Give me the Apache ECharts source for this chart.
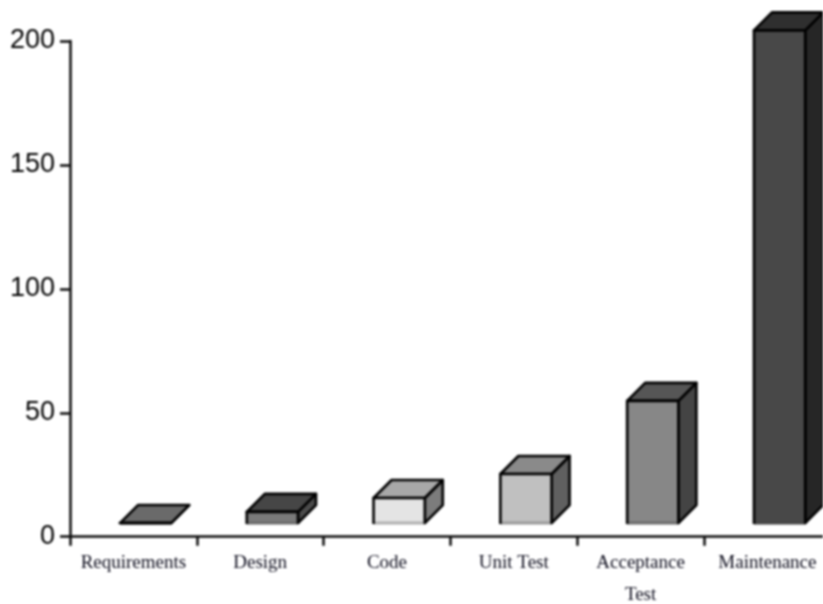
<!DOCTYPE html>
<html><head><meta charset="utf-8">
<style>html,body{margin:0;padding:0;background:#fff;width:823px;height:604px;overflow:hidden}#c{width:823px;height:604px;filter:blur(0.8px)}</style>
<script src="https://cdn.jsdelivr.net/npm/echarts@6/dist/echarts.min.js"></script>
</head><body><div id="c"></div>
<script>
const categories = ['Requirements','Design','Code','Unit Test','Acceptance\nTest','Maintenance'];
const barTops = [5.5, 10, 15.6, 25.3, 54.8, 204.3];
const barBase = 5.5;
const yTicks = [0, 50, 100, 150, 200];
const frontColors = ['#6a6a6a','#7a7a7a','#e4e4e4','#c0c0c0','#878787','#484848'];
const topColors = ['#6a6a6a','#464646','#a8a8a8','#8a8a8a','#565656','#2f2f2f'];
const sideColors = ['#6a6a6a','#4c4c4c','#7c7c7c','#606060','#444444','#262626'];
const stripColors = ['#222222','#6a6a6a','#b0b0b0','#9a9a9a','#6c6c6c','#444444'];

const DEPTH = 18, EDGE = '#000000';
function renderBar(params, api) {
  const i = api.value(0);
  const band = api.size([1, 0])[0];
  const c = api.coord([i, api.value(1)]);
  const b = api.coord([i, barBase]);
  const w = band * 0.404, cx = c[0] + band * 0.096;
  const x0 = cx - w / 2, x1 = cx + w / 2, t = c[1], y = b[1], d = DEPTH;
  const line = {stroke: EDGE, lineWidth: 2.6, lineJoin: 'round'};
  return {type: 'group', children: [
    {type:'polygon', shape:{points:[[x1,t],[x1+d,t-d],[x1+d,y-d],[x1,y]]}, style:{fill:sideColors[i], ...line}},
    {type:'polygon', shape:{points:[[x0,t],[x0+d,t-d],[x1+d,t-d],[x1,t]]}, style:{fill:topColors[i], ...line}},
    {type:'polygon', shape:{points:[[x0,t],[x1,t],[x1,y],[x0,y]]}, style:{fill:frontColors[i], stroke:'none'}},
    {type:'polyline', shape:{points:[[x0,y],[x1,y]]}, style:{fill:'none', stroke:stripColors[i], lineWidth:3}},
    {type:'polyline', shape:{points:[[x0,y+1],[x0,t],[x1,t],[x1,y+1]]}, style:{fill:'none', ...line}}
  ]};
}
const chart = echarts.init(document.getElementById('c'), null, {renderer:'canvas'});
chart.setOption({
  animation:false,
  backgroundColor:'#ffffff',
  grid:{left:70, top:41, width:760.8, height:495.7, containLabel:false, outerBoundsMode:'none'},
  xAxis:{type:'category', data:categories, boundaryGap:true,
    axisLine:{show:true, onZero:false, lineStyle:{color:'#0c0c0c', width:2.5}},
    axisTick:{show:true, alignWithLabel:false, length:9, lineStyle:{color:'#0c0c0c', width:2.5}},
    axisLabel:{interval:0, hideOverlap:false, fontFamily:'Liberation Serif', fontSize:19, color:'#0c0c1c', lineHeight:32, margin:10},
    splitLine:{show:false}},
  yAxis:{type:'value', min:yTicks[0], max:yTicks[yTicks.length-1], interval:50,
    axisLine:{show:true, lineStyle:{color:'#0c0c0c', width:2.5}},
    axisTick:{show:true, length:10, lineStyle:{color:'#0c0c0c', width:2.5}},
    axisLabel:{fontFamily:'"Liberation Sans"', fontSize:27, color:'#000', margin:15, padding:[4,0,0,0]},
    splitLine:{show:false}},
  series:[{type:'custom', coordinateSystem:'cartesian2d', clip:false, renderItem:renderBar,
    encode:{x:0,y:1}, data:barTops.map((v,i)=>[i,v])}]
});
</script></body></html>
